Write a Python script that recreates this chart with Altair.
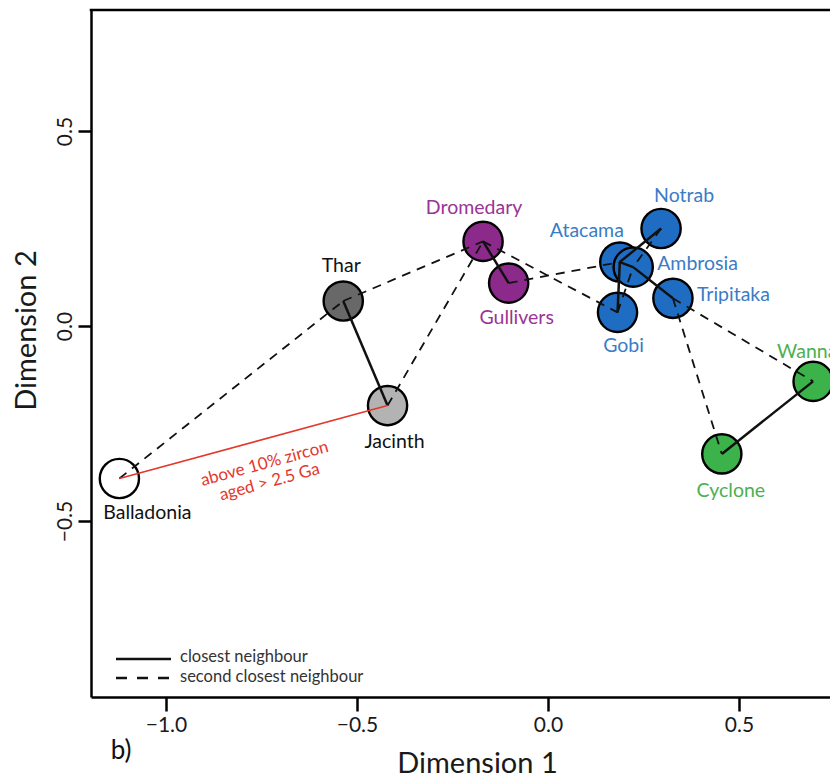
import math
import altair as alt
import pandas as pd

# ---- MDS configuration (two dimensions) ----
names = ["Balladonia", "Jacinth", "Thar", "Dromedary", "Gullivers", "Atacama",
         "Ambrosia", "Notrab", "Tripitaka", "Gobi", "Wanna", "Cyclone"]
dim1 = [-1.122, -0.420, -0.536, -0.170, -0.103, 0.188,
        0.223, 0.296, 0.327, 0.182, 0.694, 0.455]
dim2 = [-0.391, -0.204, 0.064, 0.217, 0.110, 0.164,
        0.151, 0.250, 0.071, 0.035, -0.142, -0.328]
groups = ["Balladonia", "Jacinth", "Thar", "purple", "purple", "blue",
          "blue", "blue", "blue", "blue", "green", "green"]

# nearest-neighbour links
closest_from = ["Thar", "Dromedary", "Atacama", "Notrab", "Gobi", "Tripitaka", "Wanna"]
closest_to = ["Jacinth", "Gullivers", "Ambrosia", "Atacama", "Atacama", "Ambrosia", "Cyclone"]
second_from = ["Balladonia", "Thar", "Jacinth", "Gullivers", "Dromedary", "Gobi",
               "Notrab", "Tripitaka", "Tripitaka"]
second_to = ["Thar", "Dromedary", "Dromedary", "Atacama", "Gobi", "Ambrosia",
             "Ambrosia", "Cyclone", "Wanna"]
flagged_from = ["Balladonia"]
flagged_to = ["Jacinth"]
flag_note = ["above 10% zircon", "aged > 2.5 Ga"]

x_ticks = [-1.0, -0.5, 0.0, 0.5]
y_ticks = [-0.5, 0.0, 0.5]
legend_entries = ["closest neighbour", "second closest neighbour"]

# ---- styling ----
PURPLE, PURPLE_TXT = "#8c2a8c", "#9a3497"
BLUE, BLUE_TXT = "#1f6dc2", "#3a7cc6"
GREEN, GREEN_TXT = "#3bb34a", "#4cb050"
RED = "#e3382d"
fill_of = {"Balladonia": "#ffffff", "Jacinth": "#b3b3b3", "Thar": "#686868",
           "purple": PURPLE, "blue": BLUE, "green": GREEN}
text_of = {"Balladonia": "#111111", "Jacinth": "#111111", "Thar": "#111111",
           "purple": PURPLE_TXT, "blue": BLUE_TXT, "green": GREEN_TXT}
# label anchor: (align, dx, dy) in pixels relative to the point
label_place = {
    "Balladonia": ("center", 28, 35), "Jacinth": ("center", 7, 36),
    "Thar": ("center", -2, -35), "Dromedary": ("center", -9, -33),
    "Gullivers": ("center", 8, 35), "Atacama": ("right", 4, -31),
    "Ambrosia": ("left", 24, -3), "Notrab": ("center", 23, -33),
    "Tripitaka": ("left", 24, -3), "Gobi": ("center", 6, 34),
    "Wanna": ("left", -36, -29), "Cyclone": ("center", 9, 37),
}

W, H = 739, 687
XDOM = [-1.1963, 0.7382]
YDOM = [-0.9513, 0.8103]

points = pd.DataFrame({"name": names, "x": dim1, "y": dim2, "group": groups})
pos = {n: (a, b) for n, a, b in zip(names, dim1, dim2)}


def links(src, dst):
    return pd.DataFrame({
        "x": [pos[s][0] for s in src], "y": [pos[s][1] for s in src],
        "x2": [pos[d][0] for d in dst], "y2": [pos[d][1] for d in dst],
    })


closest = links(closest_from, closest_to)
second = links(second_from, second_to)
flagged = links(flagged_from, flagged_to)

X = alt.X("x:Q", scale=alt.Scale(domain=XDOM, nice=False, zero=False),
          axis=alt.Axis(values=x_ticks, format=".1f", grid=False,
                        tickSize=14, tickWidth=2.5, tickColor="black",
                        domainColor="black", domainWidth=2.5,
                        labelFontSize=21, labelColor="#1a1a1a", labelPadding=3,
                        title="Dimension 1", titleFontSize=29, titleFontWeight="normal",
                        titleColor="#1a1a1a", titleX=386, titleY=66,
                        titleAlign="center", titleBaseline="middle"))
Y = alt.Y("y:Q", scale=alt.Scale(domain=YDOM, nice=False, zero=False),
          axis=alt.Axis(values=y_ticks, format=".1f", grid=False,
                        tickSize=13, tickWidth=2.5, tickColor="black",
                        domainColor="black", domainWidth=2.5,
                        labelFontSize=21, labelColor="#1a1a1a", labelAngle=270,
                        labelAlign="center", labelBaseline="bottom", labelPadding=3,
                        title="Dimension 2", titleFontSize=29, titleFontWeight="normal",
                        titleColor="#1a1a1a", titleX=-65, titleY=320, titleAngle=270,
                        titleAlign="center", titleBaseline="middle"))
X2 = alt.X2("x2:Q")
Y2 = alt.Y2("y2:Q")

circles = alt.Chart(points).mark_circle(
    size=1540, opacity=1, stroke="black", strokeWidth=2.4
).encode(
    x=X, y=Y,
    fill=alt.Fill("name:N", scale=alt.Scale(domain=names,
                                             range=[fill_of[g] for g in groups]),
                  legend=None),
)

dashed = alt.Chart(second).mark_rule(
    color="#111111", strokeWidth=1.8, strokeDash=[9, 7]
).encode(x=X, y=Y, x2=X2, y2=Y2)

solid = alt.Chart(closest).mark_rule(
    color="#111111", strokeWidth=2.5
).encode(x=X, y=Y, x2=X2, y2=Y2)

red = alt.Chart(flagged).mark_rule(color=RED, strokeWidth=1.6).encode(
    x=X, y=Y, x2=X2, y2=Y2)

# note along the flagged link, centred on its midpoint
fx, fy = pos[flagged_from[0]]
tx, ty = pos[flagged_to[0]]
px_per_x = W / (XDOM[1] - XDOM[0])
px_per_y = H / (YDOM[1] - YDOM[0])
slope_deg = math.degrees(math.atan2((ty - fy) * px_per_y, (tx - fx) * px_per_x))
note = pd.DataFrame({"x": [(fx + tx) / 2], "y": [(fy + ty) / 2],
                     "t": ["\n".join(flag_note)]})
note_text = alt.Chart(note).mark_text(
    color=RED, fontSize=17, lineBreak="\n", align="center", baseline="middle",
    angle=(360 - slope_deg) % 360, dx=5, dy=24, lineHeight=19
).encode(x=X, y=Y, text="t:N")

label_layers = []
for n, g in zip(names, groups):
    align, dx, dy = label_place[n]
    label_layers.append(
        alt.Chart(points).transform_filter(alt.datum.name == n).mark_text(
            align=align, baseline="middle", dx=dx, dy=dy, fontSize=19.5,
            color=text_of[g]
        ).encode(x=X, y=Y, text="name:N")
    )

one = pd.DataFrame({"k": [0]})
# top edge of the frame
top_edge = alt.Chart(one).mark_rule(color="black", strokeWidth=2.5).encode(
    x=alt.value(-1.25), x2=alt.value(W), y=alt.value(0))

# line-style key in the lower-left corner
key_solid = alt.Chart(one).mark_rule(color="#111111", strokeWidth=2.5).encode(
    x=alt.value(25), x2=alt.value(80), y=alt.value(649))
key_dash = alt.Chart(one).mark_rule(color="#111111", strokeWidth=2.5,
                                    strokeDash=[11, 10]).encode(
    x=alt.value(25), x2=alt.value(80), y=alt.value(668))
key_text = [
    alt.Chart(one).mark_text(align="left", baseline="middle", fontSize=16.5,
                             color="#333333").encode(
        x=alt.value(89), y=alt.value(yy), text=alt.value(t))
    for t, yy in zip(legend_entries, [647, 667])
]
panel = alt.Chart(one).mark_text(align="center", baseline="middle", fontSize=26,
                                 color="#111111").encode(
    x=alt.value(30), y=alt.value(741), text=alt.value("b)"))

chart = alt.layer(
    circles, dashed, solid, red, note_text, *label_layers, top_edge,
    key_solid, key_dash, *key_text, panel
).properties(
    width=W, height=H,
    autosize=alt.AutoSizeParams(type="none"),
    padding={"left": 91, "top": 10, "right": 0, "bottom": 82},
    background="white",
).configure(font="Lato").configure_view(strokeWidth=0)

chart.save("out.html", embed_options={"renderer": "svg", "actions": False})
